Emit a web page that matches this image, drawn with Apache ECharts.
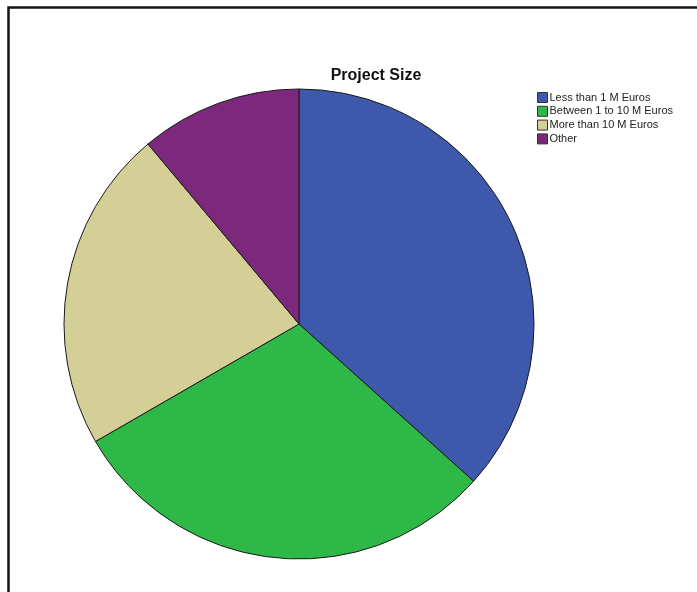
<!DOCTYPE html>
<html>
<head>
<meta charset="utf-8">
<style>
  html, body { margin: 0; padding: 0; background: #fff; }
  #chart { width: 697px; height: 592px; }
</style>
<script src="https://cdn.jsdelivr.net/npm/echarts@6/dist/echarts.min.js"></script>
</head>
<body>
<div id="chart"></div>
<script>
// Project size distribution
const categories = ['Less than 1 M Euros', 'Between 1 to 10 M Euros', 'More than 10 M Euros', 'Other'];
const counts = [33, 27, 20, 10];
const colors = ['#3E58AC', '#2EB848', '#D4CE97', '#7C287D'];

const chart = echarts.init(document.getElementById('chart'), null, { renderer: 'canvas' });

chart.setOption({
  backgroundColor: '#ffffff',
  animation: false,
  color: colors,
  title: {
    text: 'Project Size',
    left: 376,
    textAlign: 'center',
    top: 68,
    padding: 0,
    textStyle: { fontFamily: 'Liberation Sans, Arial, sans-serif', fontSize: 16, fontWeight: 'bold', color: '#111' }
  },
  legend: {
    orient: 'vertical',
    left: 537,
    top: 92,
    padding: 0,
    itemWidth: 10,
    itemHeight: 10,
    itemGap: 2.8,
    icon: 'rect',
    itemStyle: { borderColor: '#333', borderWidth: 1 },
    textStyle: { fontFamily: 'Liberation Sans, Arial, sans-serif', fontSize: 11, color: '#222', padding: [0, 0, 0, -3], lineHeight: 10 },
    data: categories
  },
  graphic: [{
    type: 'rect',
    shape: { x: 8.5, y: 7.5, width: 700, height: 600 },
    style: { fill: 'none', stroke: '#151515', lineWidth: 2.5 },
    silent: true
  }],
  series: [{
    type: 'pie',
    center: [299, 324],
    radius: 235,
    startAngle: 90,
    clockwise: true,
    label: { show: false },
    labelLine: { show: false },
    emphasis: { disabled: true },
    itemStyle: { borderColor: '#1a1a1a', borderWidth: 1 },
    data: categories.map((name, i) => ({ name, value: counts[i] }))
  }]
});
</script>
</body>
</html>
